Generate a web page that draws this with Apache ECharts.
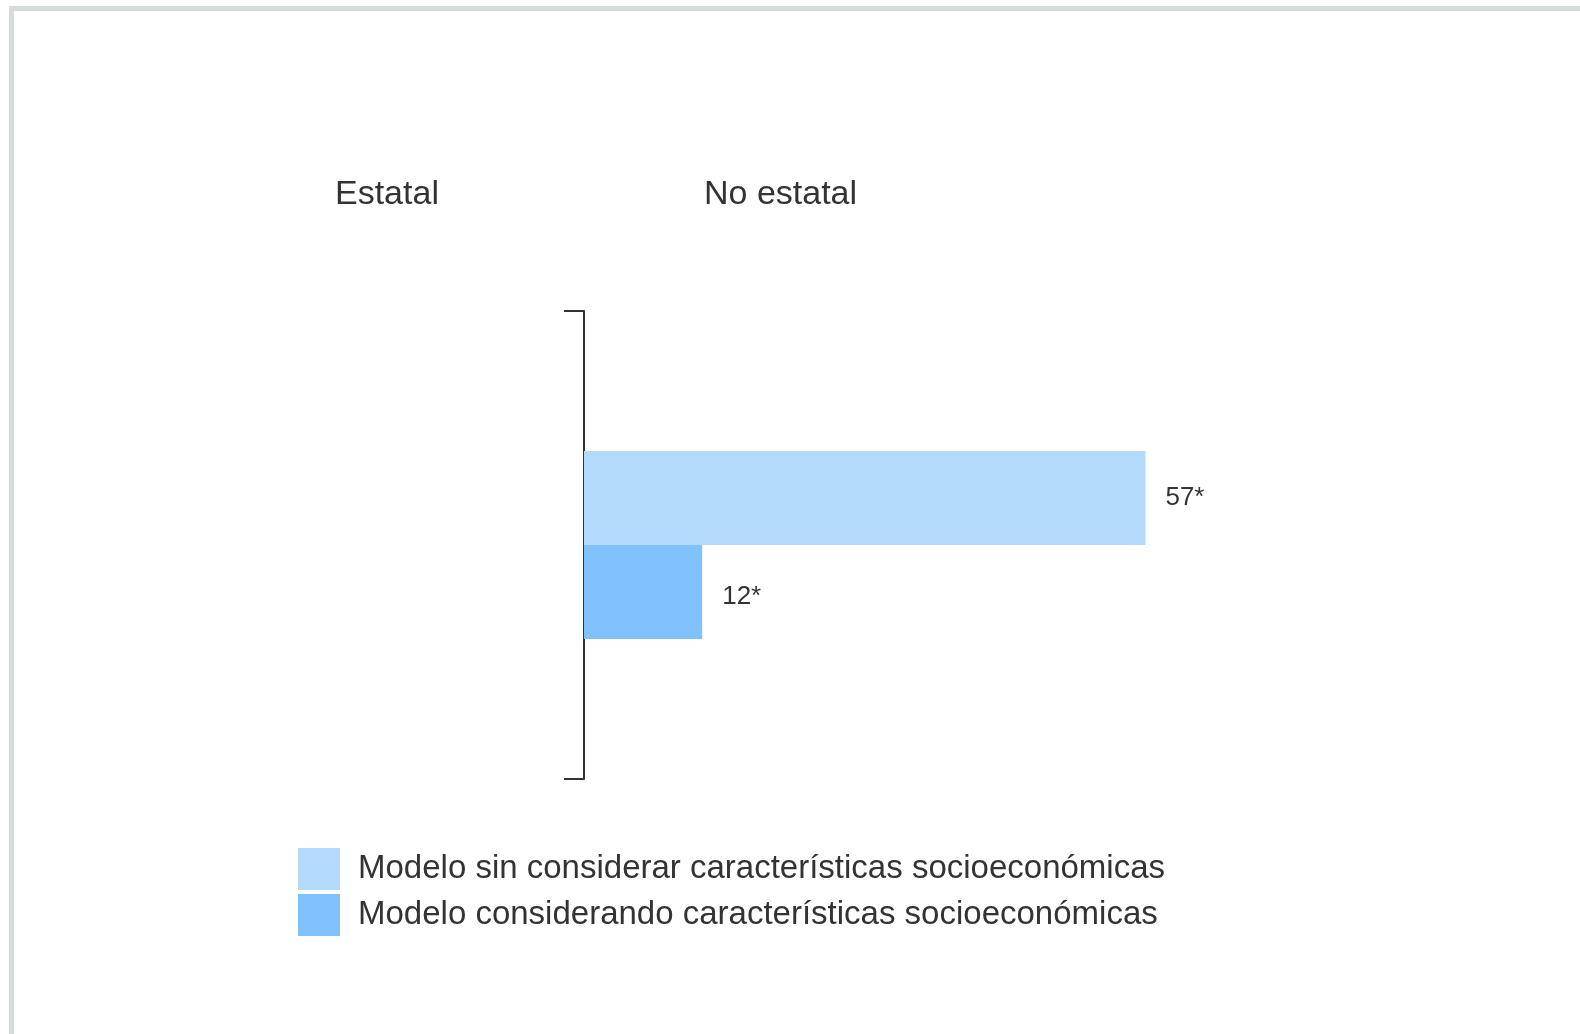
<!DOCTYPE html>
<html>
<head>
<meta charset="utf-8">
<script src="https://cdn.jsdelivr.net/npm/echarts@6/dist/echarts.min.js"></script>
<style>
html,body{margin:0;padding:0;background:#fff;}
#chart{width:1580px;height:1034px;}
</style>
</head>
<body>
<div id="chart"></div>
<script>
const categories = ['Escuela'];
const seriesNames = ['Modelo sin considerar características socioeconómicas', 'Modelo considerando características socioeconómicas'];
const valuesSin = [57];
const valuesCon = [12];
const valueLabelsSin = ['57*'];
const valueLabelsCon = ['12*'];
const headerLabels = ['Estatal', 'No estatal'];
const colors = ['#b3d9fb', '#80c1fd'];

const chart = echarts.init(document.getElementById('chart'), null, {renderer: 'canvas'});
const font = 'Liberation Sans, Arial, sans-serif';
const option = {
  backgroundColor: '#ffffff',
  animation: false,
  textStyle: {fontFamily: font, color: '#333'},
  graphic: [
    {type: 'rect', shape: {x: 11.5, y: 8.5, width: 2000, height: 2000}, style: {fill: 'none', stroke: '#d6dcdc', lineWidth: 5}, silent: true},
    {type: 'text', left: 335, top: 178, style: {text: headerLabels[0], font: '34px ' + font, fill: '#333'}},
    {type: 'text', left: 704, top: 178, style: {text: headerLabels[1], font: '34px ' + font, fill: '#333'}}
  ],
  grid: {left: 584, top: 311, width: 985, height: 468, containLabel: false},
  xAxis: {type: 'value', min: 0, max: 100, show: false},
  yAxis: {
    type: 'category', data: categories, inverse: true,
    axisLine: {show: true, lineStyle: {color: '#333', width: 2}},
    axisTick: {show: true, length: 20, lineStyle: {color: '#333', width: 2}},
    axisLabel: {show: false}
  },
  legend: {
    orient: 'vertical', left: 298, top: 848, padding: 0,
    itemWidth: 42, itemHeight: 42, itemGap: 4,
    icon: 'rect',
    data: seriesNames,
    textStyle: {fontSize: 33, color: '#333', fontFamily: font, padding: [10, 0, 0, 13]}
  },
  series: [
    {
      name: seriesNames[0], type: 'bar', data: valuesSin, barWidth: 94, barGap: '0%',
      itemStyle: {color: colors[0]},
      label: {show: true, position: 'right', distance: 20, fontSize: 26, color: '#333', fontFamily: font,
        formatter: p => valueLabelsSin[p.dataIndex]}
    },
    {
      name: seriesNames[1], type: 'bar', data: valuesCon, barWidth: 94, barGap: '0%',
      itemStyle: {color: colors[1]},
      label: {show: true, position: 'right', distance: 20, offset: [0, 5], fontSize: 26, color: '#333', fontFamily: font,
        formatter: p => valueLabelsCon[p.dataIndex]}
    }
  ]
};
chart.setOption(option);
</script>
</body>
</html>
